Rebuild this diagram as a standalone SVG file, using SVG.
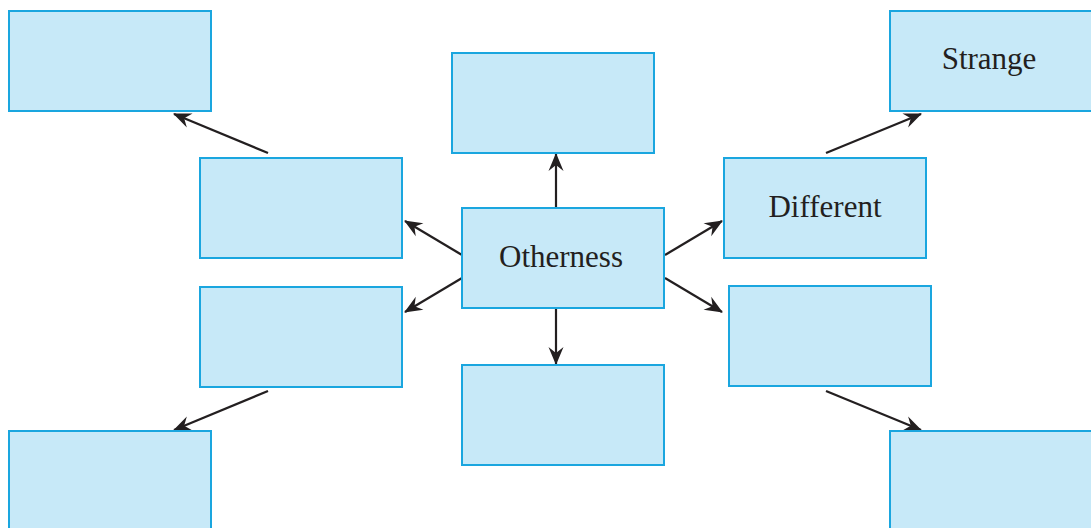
<svg xmlns="http://www.w3.org/2000/svg" width="1091" height="528" viewBox="0 0 1091 528">
<style>
.box{fill:#c7e9f8;stroke:#1aa6df;stroke-width:2}
.lbl{font-family:"Liberation Serif","Times New Roman",serif;font-size:31px;fill:#231f20;text-anchor:middle}
.con{stroke:#231f20;stroke-width:2.2;fill:none;marker-end:url(#ah)}
</style>
<defs>
<marker id="ah" markerUnits="userSpaceOnUse" viewBox="-20 -10 22 20" refX="0" refY="0" markerWidth="22" markerHeight="20" orient="auto">
<path d="M1,0 L-17,-7.5 L-11,0 L-17,7.5 Z" fill="#231f20"/>
</marker>
</defs>
<rect width="1091" height="528" fill="#ffffff"/>
<g id="connectors">
<line class="con" x1="556" y1="208" x2="556" y2="154"/>
<line class="con" x1="556" y1="308" x2="556" y2="364"/>
<line class="con" x1="462" y1="255" x2="405" y2="221"/>
<line class="con" x1="462" y1="278" x2="405" y2="312"/>
<line class="con" x1="665" y1="255" x2="722" y2="221"/>
<line class="con" x1="665" y1="278" x2="722" y2="312"/>
<line class="con" x1="268" y1="153" x2="174" y2="114"/>
<line class="con" x1="826" y1="153" x2="921" y2="114"/>
<line class="con" x1="268" y1="391" x2="174" y2="430"/>
<line class="con" x1="826" y1="391" x2="921" y2="430"/>
</g>
<g id="node-tl"><rect class="box" x="9" y="11" width="202" height="100"/></g>
<g id="node-top"><rect class="box" x="452" y="53" width="202" height="100"/></g>
<g id="node-strange"><rect class="box" x="890" y="11" width="210" height="100"/><text class="lbl" x="989" y="69">Strange</text></g>
<g id="node-ul"><rect class="box" x="200" y="158" width="202" height="100"/></g>
<g id="node-otherness"><rect class="box" x="462" y="208" width="202" height="100"/><text class="lbl" x="561" y="267">Otherness</text></g>
<g id="node-different"><rect class="box" x="724" y="158" width="202" height="100"/><text class="lbl" x="825" y="217">Different</text></g>
<g id="node-ll"><rect class="box" x="200" y="287" width="202" height="100"/></g>
<g id="node-bottom"><rect class="box" x="462" y="365" width="202" height="100"/></g>
<g id="node-lr"><rect class="box" x="729" y="286" width="202" height="100"/></g>
<g id="node-bl"><rect class="box" x="9" y="431" width="202" height="110"/></g>
<g id="node-br"><rect class="box" x="890" y="431" width="210" height="110"/></g>
</svg>
